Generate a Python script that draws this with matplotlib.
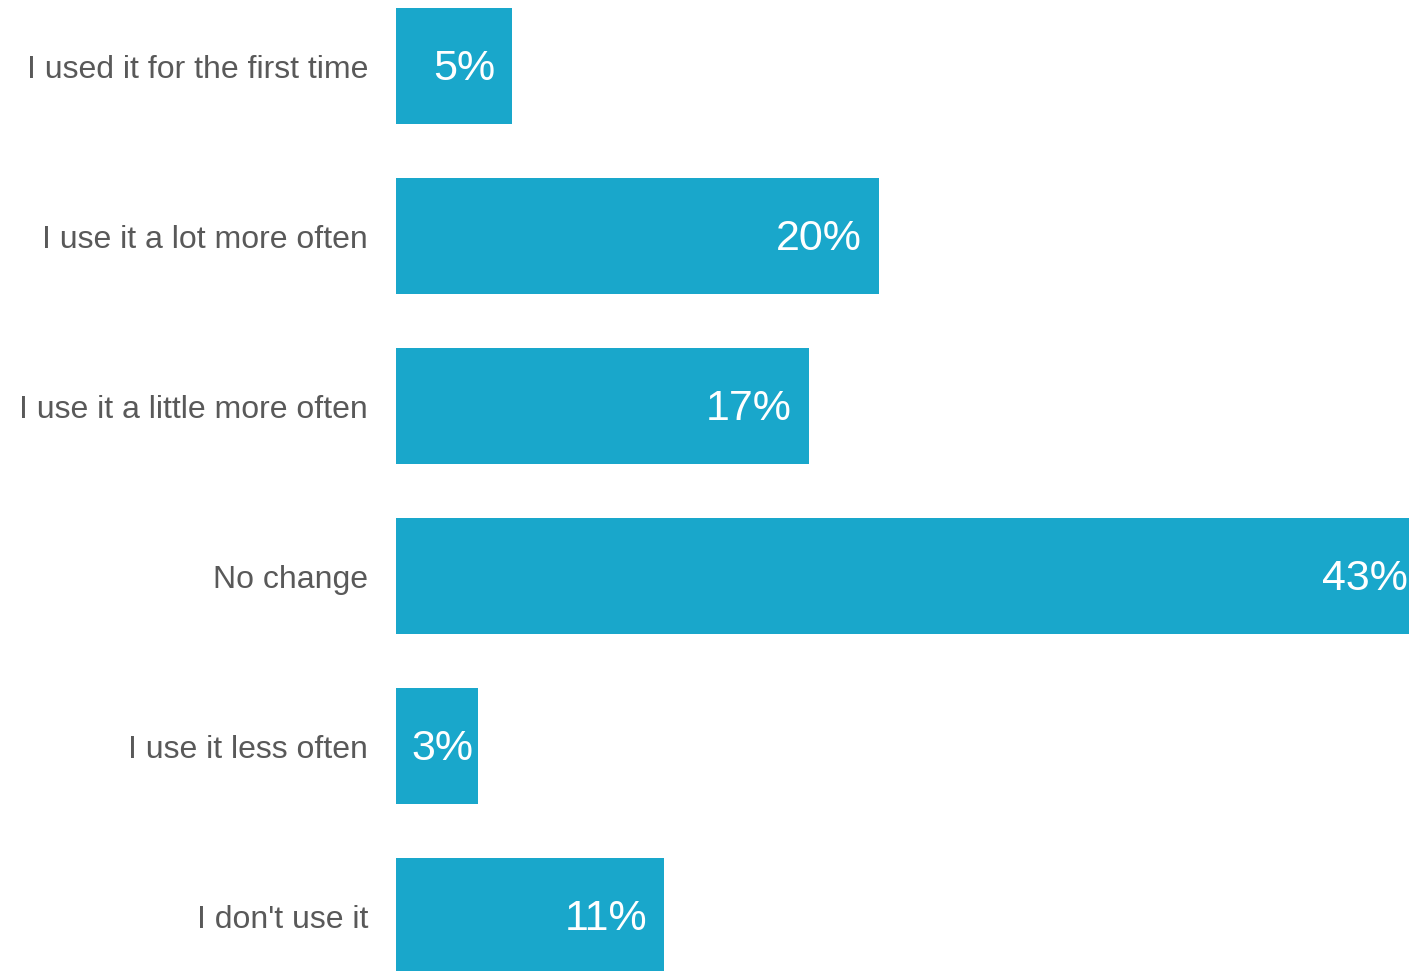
import matplotlib.pyplot as plt

categories = [
    "I used it for the first time",
    "I use it a lot more often",
    "I use it a little more often",
    "No change",
    "I use it less often",
    "I don't use it",
]
# bar lengths, labels show the rounded value
values = [4.8, 20.0, 17.1, 42.6, 3.4, 11.1]
labels = ["5%", "20%", "17%", "43%", "3%", "11%"]

bar_color = "#19A7CB"
text_color = "#595959"

plt.rcParams['font.family'] = ['Liberation Sans', 'DejaVu Sans']

fig = plt.figure(figsize=(14.09, 9.71), dpi=100)
ax = fig.add_axes([396 / 1409, 0, 1 - 396 / 1409, 1])

ypos = list(range(len(categories)))
ax.barh(ypos, values, height=0.68, color=bar_color)

for y, v, lab in zip(ypos, values, labels):
    # narrow bars get a smaller right padding so the label still fits
    pad = 5 if v < 4 else 17
    ax.annotate(lab, xy=(v, y), xytext=(-pad, -3), textcoords='offset pixels',
                ha='right', va='center', color='white', fontsize=31,
                annotation_clip=False)

ax.set_xlim(0, 1013 / 24.15)
ax.set_ylim(5 + 55 / 170, -66 / 170)
ax.set_yticks(ypos)
ax.set_yticklabels(categories, fontsize=23, color=text_color)
ax.tick_params(axis='y', length=0, pad=20)
ax.set_xticks([])
for s in ax.spines.values():
    s.set_visible(False)

fig.savefig('out.png', dpi=100)
